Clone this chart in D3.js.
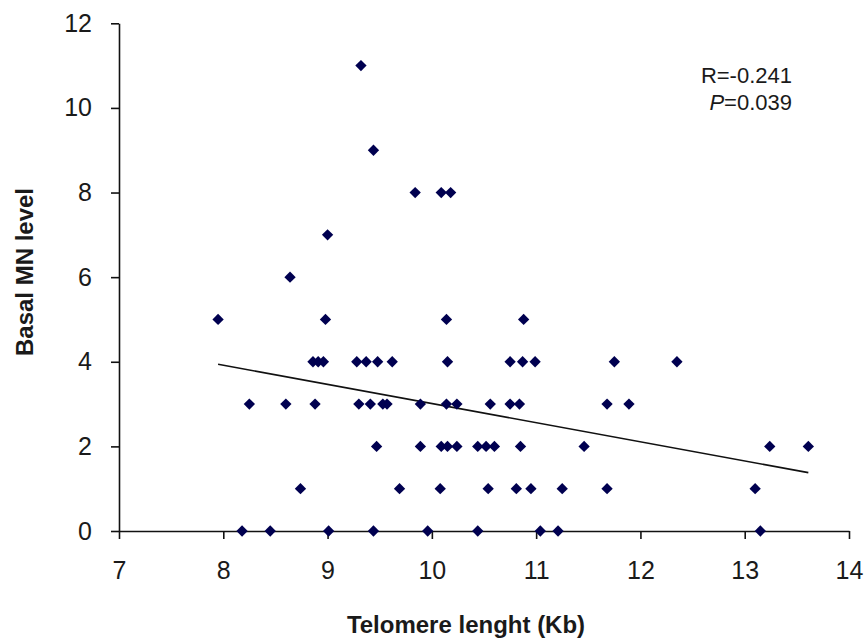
<!DOCTYPE html>
<html>
<head>
<meta charset="utf-8">
<script src="https://cdn.jsdelivr.net/npm/d3@7"></script>
<style>
  body { margin: 0; background: #fff; }
  text { font-family: "Liberation Sans", Arial, sans-serif; fill: #1a1a1a; }
</style>
</head>
<body>
<svg id="chart" width="865" height="642"></svg>
<script>
// telomere length (Kb) and basal MN level for each subject
const telomere = [
    9.32,
    9.44,
    9.84, 10.09, 10.18,
    9.00,
    8.64,
    7.95, 8.98, 10.14, 10.88,
    8.86, 8.91, 8.96, 9.28, 9.37, 9.48, 9.62, 10.15, 10.75, 10.87, 10.99, 11.75, 12.35,
    8.25, 8.60, 8.88, 9.30, 9.41, 9.53, 9.57, 9.89, 10.14, 10.24, 10.56, 10.75, 10.84, 11.68, 11.89,
    9.47, 9.89, 10.09, 10.15, 10.24, 10.44, 10.52, 10.60, 10.85, 11.46, 13.24, 13.61,
    8.74, 9.69, 10.08, 10.54, 10.81, 10.95, 11.25, 11.68, 13.10,
    8.18, 8.45, 9.01, 9.44, 9.96, 10.44, 11.04, 11.21, 13.15
];
const basalMN = [
    11,
    9,
    8, 8, 8,
    7,
    6,
    5, 5, 5, 5,
    4, 4, 4, 4, 4, 4, 4, 4, 4, 4, 4, 4, 4,
    3, 3, 3, 3, 3, 3, 3, 3, 3, 3, 3, 3, 3, 3, 3,
    2, 2, 2, 2, 2, 2, 2, 2, 2, 2, 2, 2,
    1, 1, 1, 1, 1, 1, 1, 1, 1,
    0, 0, 0, 0, 0, 0, 0, 0, 0
];

// linear trend line end points
const trendX = [7.95, 13.61];
const trendY = [3.94, 1.38];

const xTicks = [7, 8, 9, 10, 11, 12, 13, 14];
const yTicks = [0, 2, 4, 6, 8, 10, 12];
const statLines = ["R=-0.241", "=0.039"];

const svg = d3.select("#chart");

const x = d3.scaleLinear().domain([7, 14]).range([119, 849]);
const y = d3.scaleLinear().domain([0, 12]).range([531, 23.3]);

// axes
const xAxis = svg.append("g")
    .attr("transform", `translate(0,${y(0)})`)
    .call(d3.axisBottom(x).tickValues(xTicks).tickFormat(d3.format("d"))
        .tickSize(8).tickPadding(22).tickSizeOuter(0));

const yAxis = svg.append("g")
    .attr("transform", `translate(${x(7)},0)`)
    .call(d3.axisLeft(y).tickValues(yTicks).tickFormat(d3.format("d"))
        .tickSize(8).tickPadding(19).tickSizeOuter(0));

[xAxis, yAxis].forEach(g => {
    g.select(".domain").attr("stroke", "#111").attr("stroke-width", 1.6);
    g.selectAll(".tick line").attr("stroke", "#111").attr("stroke-width", 1.6);
    g.selectAll(".tick text")
        .attr("fill", "#1a1a1a")
        .style("font-size", "25px")
        .style("font-family", "'Liberation Sans', Arial, sans-serif");
});

// trend line
const pts = trendX.map((d, i) => [d, trendY[i]]);
svg.append("path")
    .attr("d", d3.line().x(d => x(d[0])).y(d => y(d[1]))(pts))
    .attr("fill", "none")
    .attr("stroke", "#111")
    .attr("stroke-width", 1.6);

// points (diamonds)
const diamond = d3.symbol().type(d3.symbolSquare).size(64);
svg.selectAll(".pt")
    .data(telomere.map((d, i) => ({ t: d, mn: basalMN[i] })))
    .enter()
    .append("path")
    .attr("class", "pt")
    .attr("d", diamond)
    .attr("transform", d => `translate(${x(d.t)},${y(d.mn)}) rotate(45)`)
    .attr("fill", "#000050");

// R / P annotation
svg.append("text")
    .attr("x", 792).attr("y", 83)
    .attr("text-anchor", "end")
    .style("font-size", "22px")
    .text(statLines[0]);

const pText = svg.append("text")
    .attr("x", 792).attr("y", 110)
    .attr("text-anchor", "end")
    .style("font-size", "22px");
pText.append("tspan").style("font-style", "italic").text("P");
pText.append("tspan").text(statLines[1]);

// axis titles
svg.append("text")
    .attr("x", 466).attr("y", 633)
    .attr("text-anchor", "middle")
    .style("font-size", "24px")
    .style("font-weight", "bold")
    .text("Telomere lenght (Kb)");

svg.append("text")
    .attr("transform", "translate(33,272) rotate(-90)")
    .attr("text-anchor", "middle")
    .style("font-size", "24px")
    .style("font-weight", "bold")
    .text("Basal MN level");
</script>
</body>
</html>
